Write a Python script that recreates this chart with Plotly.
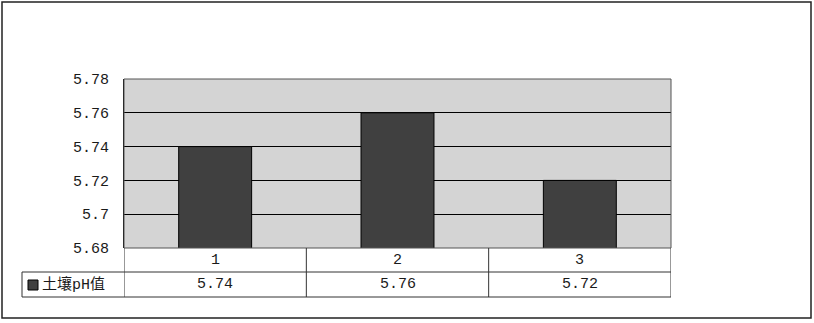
import plotly.graph_objects as go

categories = ["1", "2", "3"]
ph_values = [5.74, 5.76, 5.72]
value_labels = ["5.74", "5.76", "5.72"]
series_name = "土壤pH值"
y_ticks = [5.68, 5.70, 5.72, 5.74, 5.76, 5.78]
y_tick_text = ["5.68", "5.7", "5.72", "5.74", "5.76", "5.78"]

FONT = "Liberation Mono, Noto Sans CJK SC, monospace"
LINE = "#333333"
BAR = "#404040"
TXT = "#1a1a1a"

fig = go.Figure()
fig.add_trace(go.Bar(
    x=list(range(len(categories))), y=ph_values, name=series_name,
    marker=dict(color=BAR, line=dict(color="#000000", width=1)),
    width=0.4, showlegend=False,
))

W, H = 814, 323
L, R, T, B = 124, 143, 79, 75
pw, ph = W - L - R, H - T - B

def px(xp):
    return (xp - L) / pw

def py(yp):
    return (H - B - yp) / ph

shapes = []
shapes.append(dict(type="rect", xref="paper", yref="paper",
                   x0=px(2), x1=px(811), y0=py(318), y1=py(2),
                   line=dict(color="#222222", width=1.5), layer="below"))
shapes.append(dict(type="rect", xref="paper", yref="paper", x0=0, x1=1, y0=0, y1=1,
                   line=dict(color="#555555", width=1)))
row1 = py(272)
row2 = py(297)
shapes.append(dict(type="line", xref="paper", yref="paper", x0=px(22), x1=1, y0=row1, y1=row1,
                   line=dict(color=LINE, width=1)))
shapes.append(dict(type="line", xref="paper", yref="paper", x0=px(22), x1=1, y0=row2, y1=row2,
                   line=dict(color=LINE, width=1)))
for xb in [-0.5, 0.5, 1.5, 2.5]:
    shapes.append(dict(type="line", xref="x", yref="paper", x0=xb, x1=xb, y0=row2, y1=0,
                       line=dict(color=LINE, width=1)))
shapes.append(dict(type="line", xref="paper", yref="paper", x0=px(22), x1=px(22), y0=row2, y1=row1,
                   line=dict(color=LINE, width=1)))
shapes.append(dict(type="rect", xref="paper", yref="paper", x0=px(28), x1=px(38),
                   y0=py(290), y1=py(280), fillcolor=BAR, line=dict(color="#000000", width=1)))

annotations = []
for i, (c, v) in enumerate(zip(categories, value_labels)):
    annotations.append(dict(x=i, xref="x", y=(0 + row1) / 2, yref="paper", text=c,
                            xanchor="center", yanchor="middle",
                            showarrow=False, font=dict(family=FONT, size=15, color=TXT)))
    annotations.append(dict(x=i, xref="x", y=(row1 + row2) / 2, yref="paper", text=v,
                            xanchor="center", yanchor="middle",
                            showarrow=False, font=dict(family=FONT, size=15, color=TXT)))
annotations.append(dict(x=px(40), xref="paper", y=(row1 + row2) / 2, yref="paper",
                        xanchor="left", yanchor="middle", text=series_name,
                        showarrow=False, font=dict(family=FONT, size=15, color=TXT)))

fig.update_layout(
    width=W, height=H,
    margin=dict(l=L, r=R, t=T, b=B),
    paper_bgcolor="white", plot_bgcolor="#D4D4D4",
    xaxis=dict(range=[-0.5, 2.5], showticklabels=False, showgrid=False, zeroline=False,
               showline=False, ticks=""),
    yaxis=dict(range=[5.68, 5.78], tickvals=y_ticks, ticktext=y_tick_text,
               showgrid=True, gridcolor="#000000", gridwidth=1, zeroline=False,
               showline=True, linecolor="#000000", linewidth=1, ticks="",
               ticklabelstandoff=11,
               tickfont=dict(family=FONT, size=15, color=TXT)),
    shapes=shapes, annotations=annotations,
    bargap=0.6,
)

fig.write_html("out.html")
